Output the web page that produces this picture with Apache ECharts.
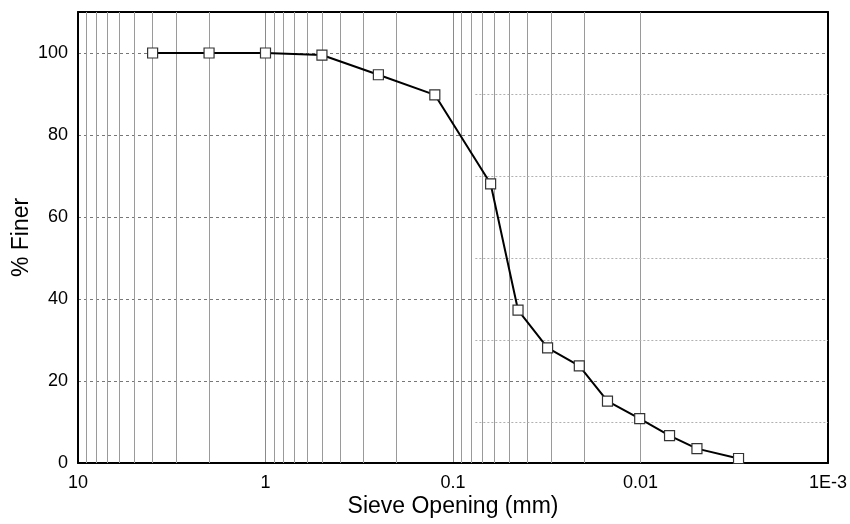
<!DOCTYPE html>
<html>
<head>
<meta charset="utf-8">
<script src="https://cdn.jsdelivr.net/npm/echarts@6/dist/echarts.min.js"></script>
<style>
  html, body { margin: 0; padding: 0; background: #fff; }
  #chart { width: 850px; height: 524px; }
</style>
</head>
<body>
<div id="chart"></div>
<script>
// sieve opening (mm) and % finer
const sieveSizes = [4, 2, 1, 0.5, 0.25, 0.125, 0.063, 0.045, 0.0313, 0.0212, 0.015, 0.0101, 0.007, 0.005, 0.003];
const percentFiner = [100, 100, 100, 99.5, 94.7, 89.8, 68.1, 37.3, 28.1, 23.7, 15.1, 10.8, 6.7, 3.5, 1.1];

// x tick labels by decade
const xTickValues = [10, 1, 0.1, 0.01, 0.001];
const xTickLabels = ['10', '1', '0.1', '0.01', '1E-3'];

// log minor grid: 2..9 in each decade
const minorMultipliers = [2, 3, 4, 5, 6, 7, 8, 9];
const decades = [1, 0.1, 0.01, 0.001];
const minorXValues = [];
decades.forEach((d) => minorMultipliers.forEach((m) => minorXValues.push(+(m * d).toPrecision(3))));

// faint half-step lines (10, 30, ... 90) that only run across the fine end
const halfStepY = [10, 30, 50, 70, 90];
const halfStepStart = 0.076;

(function () {
  const myChart = echarts.init(document.getElementById('chart'));
  const font = 'Liberation Sans, Arial, sans-serif';
  const frameLine = { show: true, onZero: false, lineStyle: { color: '#000', width: 2 } };

  const option = {
    animation: false,
    grid: {
      left: 78,
      right: 22,
      top: 12,
      bottom: 61,
      containLabel: false,
      outerBoundsMode: 'none',
    },
    xAxis: [
      {
        type: 'log',
        logBase: 10,
        min: 0.001,
        max: 10,
        inverse: true,
        name: 'Sieve Opening (mm)',
        nameLocation: 'middle',
        nameGap: 32,
        nameMoveOverlap: false,
        nameTextStyle: { fontFamily: font, fontSize: 23, color: '#000' },
        axisLine: frameLine,
        axisTick: { show: false },
        axisLabel: {
          fontFamily: font,
          fontSize: 18,
          color: '#000',
          margin: 11,
          formatter(v) {
            const i = xTickValues.findIndex((t) => Math.abs(Math.log10(t) - Math.log10(v)) < 1e-6);
            return i >= 0 ? xTickLabels[i] : '';
          },
        },
        splitLine: { show: true, lineStyle: { color: '#8a8a8a', width: 1 } },
      },
      {
        // top frame edge
        type: 'value',
        position: 'top',
        min: 0,
        max: 1,
        axisLine: frameLine,
        axisTick: { show: false },
        axisLabel: { show: false },
        splitLine: { show: false },
      },
    ],
    yAxis: [
      {
        type: 'value',
        min: 0,
        max: 110,
        interval: 20,
        name: '% Finer',
        nameLocation: 'middle',
        nameGap: 45,
        nameMoveOverlap: false,
        nameTextStyle: { fontFamily: font, fontSize: 23, color: '#000' },
        axisLine: frameLine,
        axisTick: { show: false },
        axisLabel: {
          fontFamily: font,
          fontSize: 18,
          color: '#000',
          margin: 10,
          showMaxLabel: false,
        },
        splitLine: { show: true, lineStyle: { color: '#777', type: [3, 3], width: 1 } },
      },
      {
        // right frame edge
        type: 'value',
        position: 'right',
        min: 0,
        max: 1,
        axisLine: frameLine,
        axisTick: { show: false },
        axisLabel: { show: false },
        splitLine: { show: false },
      },
    ],
    series: [
      {
        // grid decoration only
        type: 'line',
        data: [],
        silent: true,
        markLine: {
          silent: true,
          symbol: 'none',
          animation: false,
          label: { show: false },
          lineStyle: { color: '#9a9a9a', type: 'solid', width: 1 },
          data: minorXValues.map((v) => ({ xAxis: v })),
        },
      },
      {
        type: 'line',
        data: [],
        silent: true,
        markLine: {
          silent: true,
          symbol: 'none',
          animation: false,
          label: { show: false },
          lineStyle: { color: '#b0b0b0', type: [2, 2], width: 1 },
          data: halfStepY.map((y) => [
            { coord: [halfStepStart, y] },
            { coord: [0.001, y] },
          ]),
        },
      },
      {
        name: '% Finer',
        type: 'line',
        z: 5,
        data: sieveSizes.map((s, i) => [s, percentFiner[i]]),
        lineStyle: { color: '#000', width: 2 },
        symbol: 'rect',
        symbolSize: 10,
        showAllSymbol: true,
        itemStyle: { color: '#fff', borderColor: '#333', borderWidth: 1.2 },
      },
    ],
  };

  myChart.setOption(option);

  window.addEventListener('resize', () => {
    myChart.resize();
  });
})();
</script>
</body>
</html>
